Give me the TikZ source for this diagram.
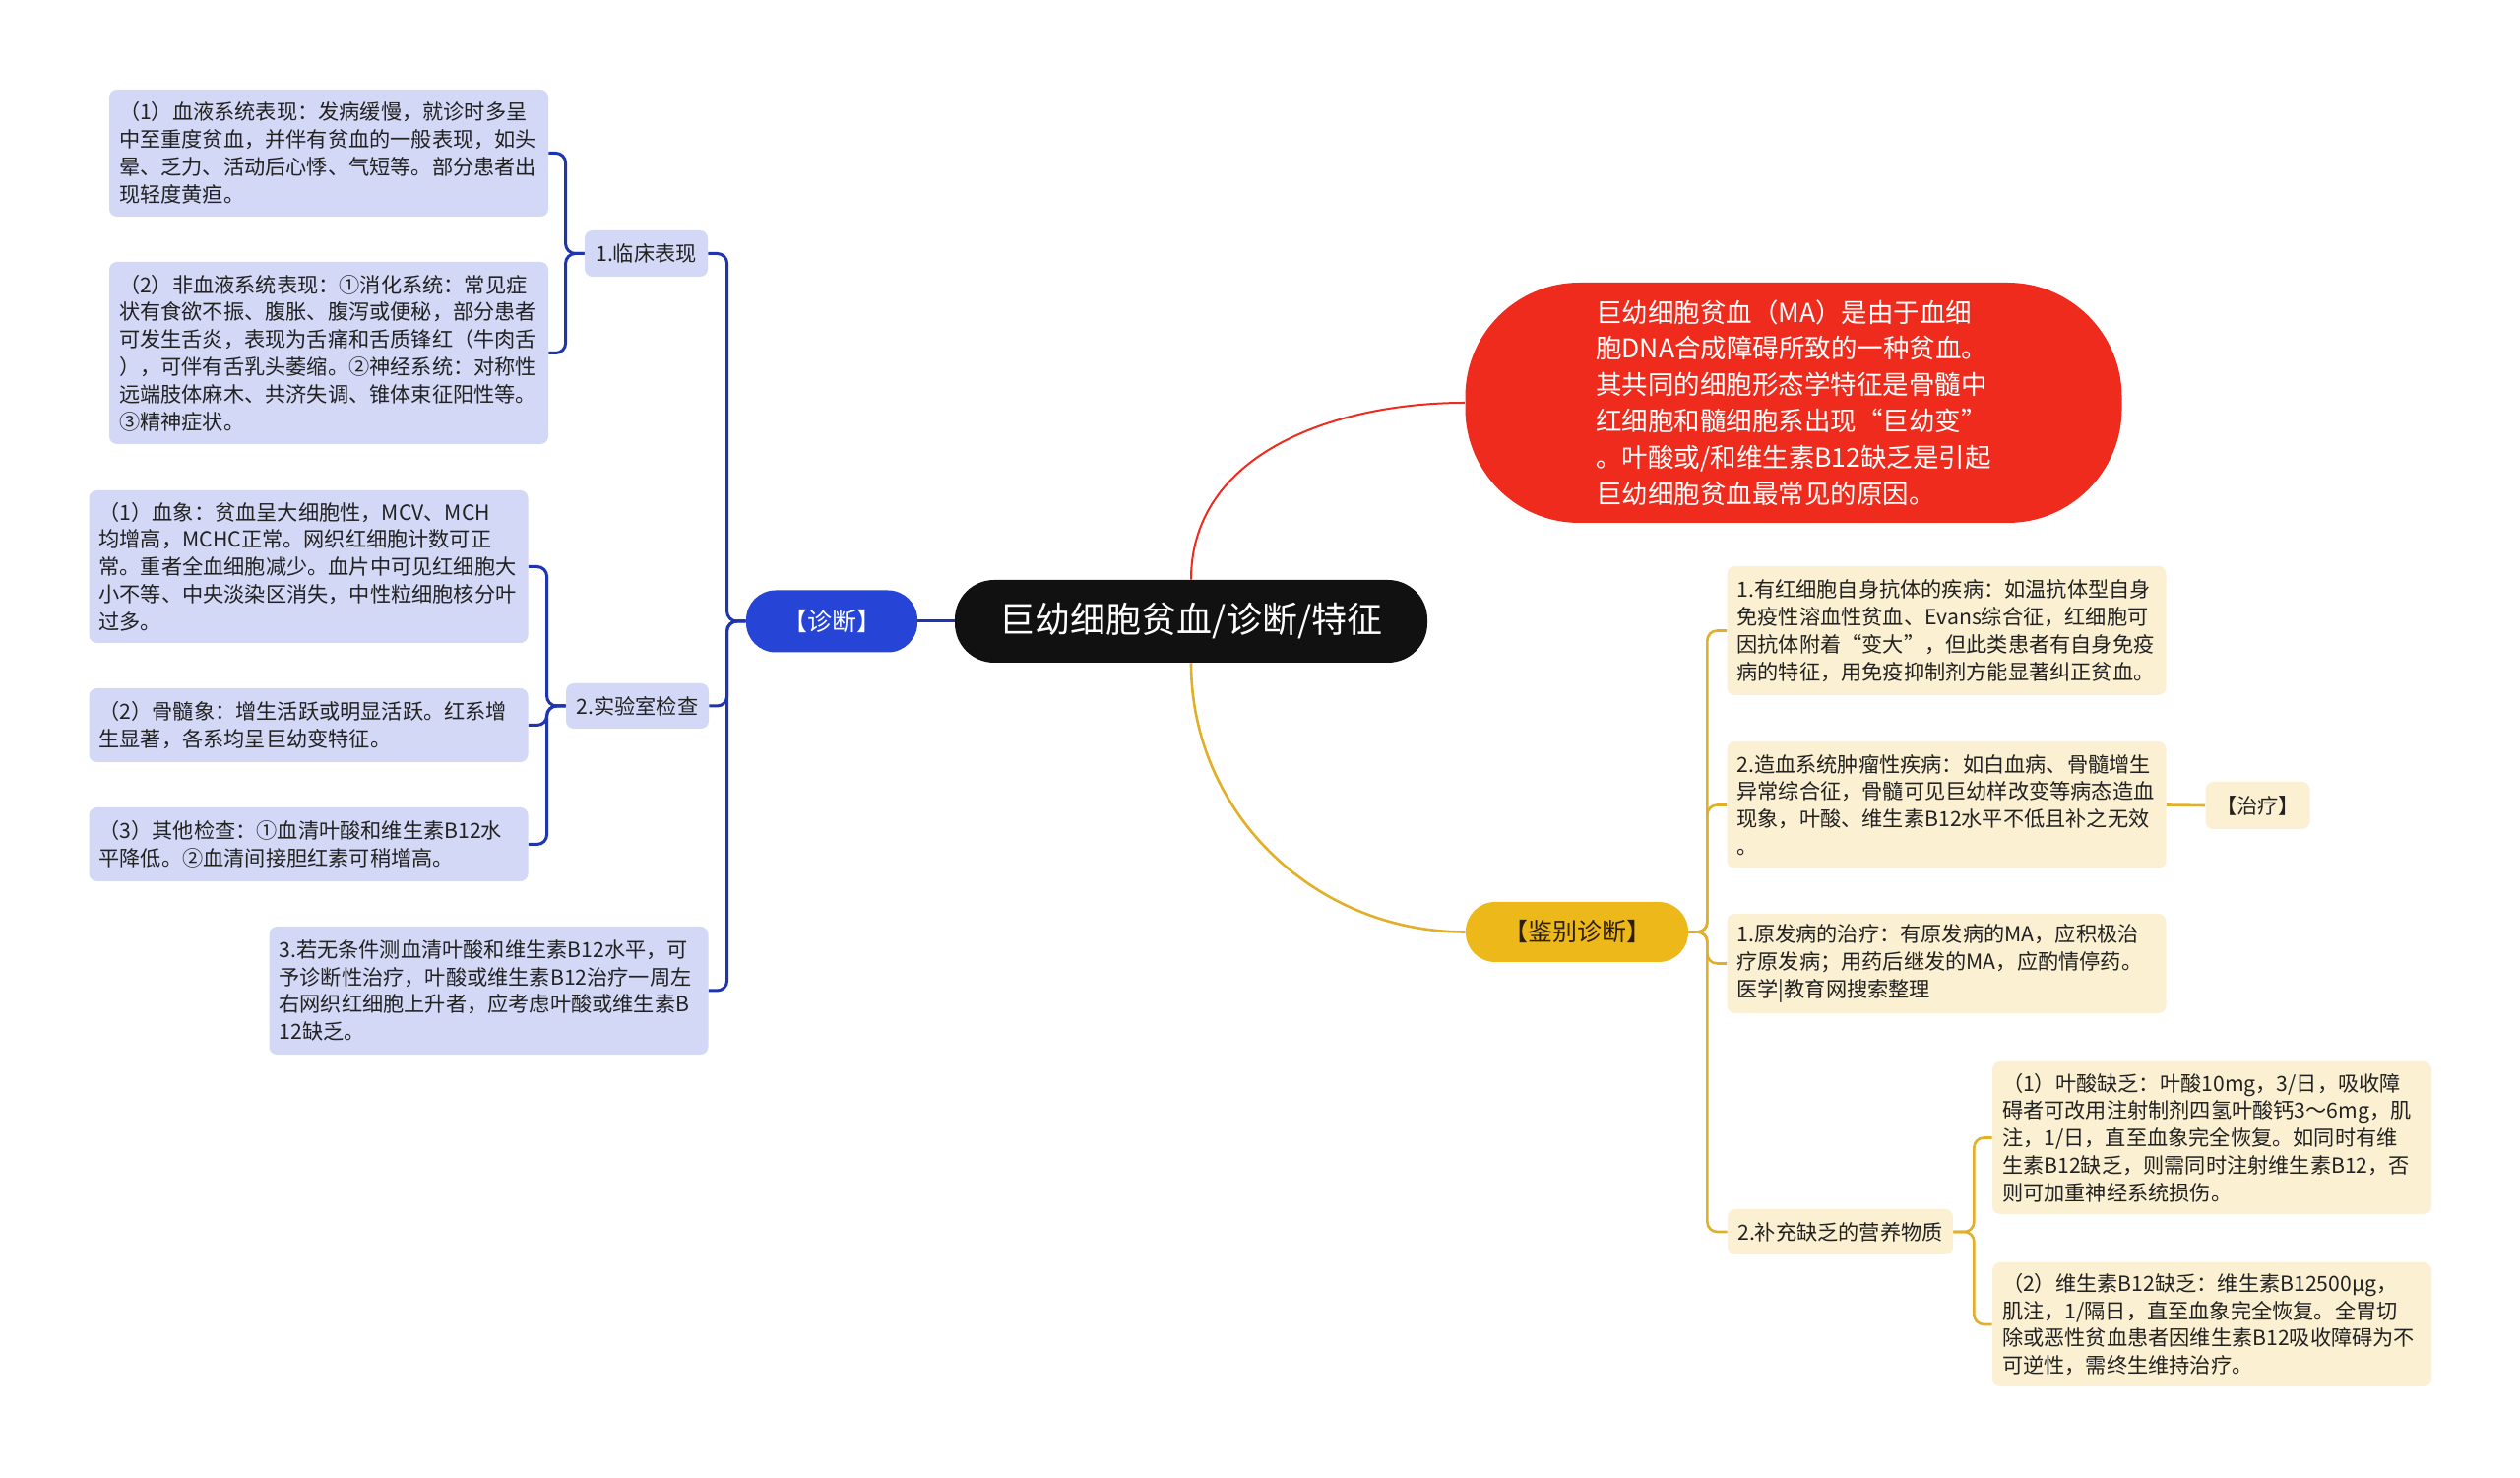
\documentclass[tikz,border=0pt]{standalone}
\usepackage{fontspec}
\setmainfont{Noto Sans CJK SC}
\usepackage{xcolor}
\usepackage{tikz}
\definecolor{negroBox}{RGB}{17,17,17}
\definecolor{rojoBox}{RGB}{238,43,28}
\definecolor{azulBox}{RGB}{38,68,214}
\definecolor{azulLine}{RGB}{31,53,176}
\definecolor{azulBg}{RGB}{211,216,246}
\definecolor{oroBox}{RGB}{237,185,26}
\definecolor{oroLine}{RGB}{226,176,40}
\definecolor{oroBg}{RGB}{252,240,210}
\definecolor{textoHoja}{RGB}{34,34,34}
\definecolor{textoOro}{RGB}{45,32,8}
\newcommand{\hojaFont}{\fontsize{10.6}{13.9}\selectfont}

\tikzset{
  hojaAzul/.style={fill=azulBg, rounded corners=4pt, text width=213pt,
    align=left, inner xsep=5pt, font=\hojaFont, text=textoHoja},
  hojaOro/.style={hojaAzul, fill=oroBg},
  temaAzul/.style={fill=azulBg, rounded corners=4pt, font=\hojaFont,
    text=textoHoja, inner sep=0pt},
  temaOro/.style={temaAzul, fill=oroBg},
  ramaAzul/.style={azulLine, line width=1.5pt, rounded corners=5pt},
  ramaOro/.style={oroLine, line width=1.3pt, rounded corners=5pt}
}

\begin{document}
\begin{tikzpicture}[x=0.5pt, y=0.5pt]
  \fill[white] (0,0) rectangle (2560,1500);
  \useasboundingbox (0,0) rectangle (2560,1500);
  % Central topic
  \node[fill=negroBox, text=white, rounded corners=20pt, minimum width=240pt,
    minimum height=42pt, font=\fontsize{18}{22}\selectfont] (main) at (1210,869)
    {巨幼细胞贫血/诊断/特征};
  % Red summary
  \node[fill=rojoBox, text=white, rounded corners=58pt, minimum width=333.5pt,
    minimum height=122pt, align=left, font=\fontsize{13.25}{18.4}\selectfont]
    (red) at (1822,1091)
    {巨幼细胞贫血（MA）是由于血细\\
     胞DNA合成障碍所致的一种贫血。\\
     其共同的细胞形态学特征是骨髓中\\
     红细胞和髓细胞系出现“巨幼变”\\
     。叶酸或/和维生素B12缺乏是引起\\
     巨幼细胞贫血最常见的原因。};
  % Left branch
  \node[fill=azulBox, text=white, rounded corners=15pt, minimum width=87pt,
    minimum height=31.5pt, font=\fontsize{12.5}{15}\selectfont] (diag) at (845,869)
    {【诊断】};
  \node[temaAzul, minimum width=62.5pt, minimum height=23.5pt] (c1) at (656.5,1242.5)
    {1.临床表现};
  \node[temaAzul, minimum width=72.5pt, minimum height=23pt] (c2) at (647.5,783)
    {2.实验室检查};
  \node[hojaAzul, minimum height=65pt] (c3) at (496.5,494)
    {3.若无条件测血清叶酸和维生素B12水平，可\\
     予诊断性治疗，叶酸或维生素B12治疗一周左\\
     右网织红细胞上升者，应考虑叶酸或维生素B\\
     12缺乏。};
  \node[hojaAzul, minimum height=64.5pt] (l1a) at (334,1344.5)
    {（1）血液系统表现：发病缓慢，就诊时多呈\\
     中至重度贫血，并伴有贫血的一般表现，如头\\
     晕、乏力、活动后心悸、气短等。部分患者出\\
     现轻度黄疸。};
  \node[hojaAzul, minimum height=92.5pt] (l1b) at (334,1141.5)
    {（2）非血液系统表现：①消化系统：常见症\\
     状有食欲不振、腹胀、腹泻或便秘，部分患者\\
     可发生舌炎，表现为舌痛和舌质锋红（牛肉舌\\
     ），可伴有舌乳头萎缩。②神经系统：对称性\\
     远端肢体麻木、共济失调、锥体束征阳性等。\\
     ③精神症状。};
  \node[hojaAzul, minimum height=77.5pt] (l2a) at (313.5,924.5)
    {（1）血象：贫血呈大细胞性，MCV、MCH\\
     均增高，MCHC正常。网织红细胞计数可正\\
     常。重者全血细胞减少。血片中可见红细胞大\\
     小不等、中央淡染区消失，中性粒细胞核分叶\\
     过多。};
  \node[hojaAzul, minimum height=37.5pt] (l2b) at (313.5,763.5)
    {（2）骨髓象：增生活跃或明显活跃。红系增\\
     生显著，各系均呈巨幼变特征。};
  \node[hojaAzul, minimum height=37.5pt] (l2c) at (313.5,642.5)
    {（3）其他检查：①血清叶酸和维生素B12水\\
     平降低。②血清间接胆红素可稍增高。};
  % Right branch
  \node[fill=oroBox, text=textoOro, rounded corners=15pt, minimum width=113pt,
    minimum height=30.5pt, font=\fontsize{12.5}{15}\selectfont] (diff) at (1602,553.5)
    {【鉴别诊断】};
  \node[hojaOro, minimum height=65.5pt] (r1) at (1977.5,859.5)
    {1.有红细胞自身抗体的疾病：如温抗体型自身\\
     免疫性溶血性贫血、Evans综合征，红细胞可\\
     因抗体附着“变大”，但此类患者有自身免疫\\
     病的特征，用免疫抑制剂方能显著纠正贫血。};
  \node[hojaOro, minimum height=64.5pt] (r2) at (1977.5,682.5)
    {2.造血系统肿瘤性疾病：如白血病、骨髓增生\\
     异常综合征，骨髓可见巨幼样改变等病态造血\\
     现象，叶酸、维生素B12水平不低且补之无效\\
     。};
  \node[temaOro, minimum width=53pt, minimum height=24pt] (treat) at (2293.5,682)
    {【治疗】};
  \node[hojaOro, minimum height=50.5pt] (t1) at (1977.5,521.5)
    {1.原发病的治疗：有原发病的MA，应积极治\\
     疗原发病；用药后继发的MA，应酌情停药。\\
     医学|教育网搜索整理};
  \node[temaOro, minimum width=114.5pt, minimum height=23pt] (t2) at (1869.5,249)
    {2.补充缺乏的营养物质};
  \node[hojaOro, minimum height=77.5pt] (r4a) at (2247,344.5)
    {（1）叶酸缺乏：叶酸10mg，3/日，吸收障\\
     碍者可改用注射制剂四氢叶酸钙3～6mg，肌\\
     注，1/日，直至血象完全恢复。如同时有维\\
     生素B12缺乏，则需同时注射维生素B12，否\\
     则可加重神经系统损伤。};
  \node[hojaOro, minimum height=63pt] (r4b) at (2247,155)
    {（2）维生素B12缺乏：维生素B12500μg，\\
     肌注，1/隔日，直至血象完全恢复。全胃切\\
     除或恶性贫血患者因维生素B12吸收障碍为不\\
     可逆性，需终生维持治疗。};
  % Connectors
  \draw[rojoBox, line width=1pt] (main.north) to[out=90, in=180] (red.west);
  \draw[oroLine, line width=1.3pt] (main.south) to[out=-90, in=180] (diff.west);
  \draw[azulLine, line width=1.5pt] (main.west) -- (diag.east);
  \foreach \n in {c1,c2,c3}
    \draw[ramaAzul] (diag.west) -- ++(-19,0) |- (\n.east);
  \foreach \n in {l1a,l1b}
    \draw[ramaAzul] (c1.west) -- ++(-19,0) |- (\n.east);
  \foreach \n in {l2a,l2b,l2c}
    \draw[ramaAzul] (c2.west) -- ++(-19,0) |- (\n.east);
  \foreach \n in {r1,r2,t1,t2}
    \draw[ramaOro] (diff.east) -- ++(19,0) |- (\n.west);
  \draw[ramaOro] (r2.east) -- (treat.west);
  \foreach \n in {r4a,r4b}
    \draw[ramaOro] (t2.east) -- ++(21,0) |- (\n.west);
\end{tikzpicture}
\end{document}
